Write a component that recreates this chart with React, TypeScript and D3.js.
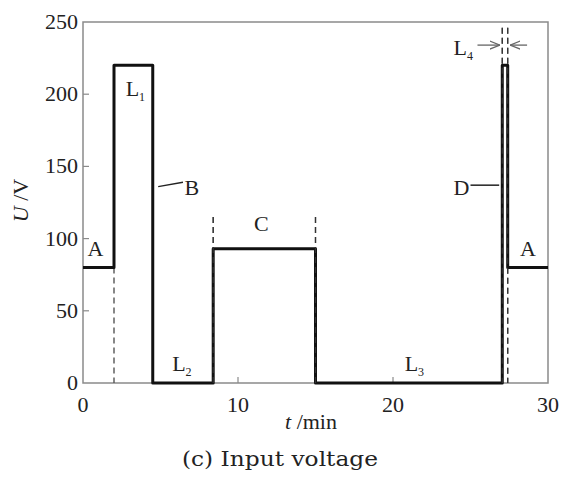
import * as d3 from "d3";
import { useEffect, useRef } from "react";

// step segments: start time (min) and voltage held until the next start
const segStart = [0, 2, 4.5, 8.4, 15, 27.05, 27.4];
const segVolt = [80, 220, 0, 93, 0, 220, 80];
const tEnd = 30;

// dashed guide lines: time and top voltage
const guideT = [2, 8.4, 15, 27.05, 27.4];
const guideTop = [80, 115, 115, 246, 246];

const xTicks = [0, 10, 20, 30];
const yTicks = [0, 50, 100, 150, 200, 250];

// text labels placed in data coords
const labels = [
  { t: "A", x: 0.8, y: 88 },
  { t: "A", x: 28.7, y: 88 },
  { t: "C", x: 11.5, y: 105 },
];
const subLabels = [
  { t: "L", s: "1", x: 2.75, y: 199 },
  { t: "L", s: "2", x: 5.75, y: 8 },
  { t: "L", s: "3", x: 20.75, y: 8 },
  { t: "L", s: "4", x: 23.9, y: 227 },
];

const App = () => {
  const ref = useRef<SVGSVGElement>(null);

  const W = 561, H = 480;
  const margin = { top: 22, left: 83, right: 13, bottom: 97 };

  useEffect(() => {
    const svg = d3.select(ref.current);
    svg.selectAll("*").remove();

    const x = d3.scaleLinear().domain([0, 30]).range([margin.left, W - margin.right]);
    const y = d3.scaleLinear().domain([0, 250]).range([H - margin.bottom, margin.top]);
    const font = "'Liberation Serif', 'Times New Roman', serif";

    // frame
    svg.append("rect")
      .attr("x", x(0)).attr("y", y(250))
      .attr("width", x(30) - x(0)).attr("height", y(0) - y(250))
      .attr("fill", "none").attr("stroke", "#8a8a8a").attr("stroke-width", 1.5);

    // ticks (inward)
    svg.selectAll(".yt").data(yTicks.slice(1, -1)).enter().append("line")
      .attr("x1", x(0)).attr("x2", x(0) + 6)
      .attr("y1", d => y(d)).attr("y2", d => y(d))
      .attr("stroke", "#8a8a8a").attr("stroke-width", 1.2);
    svg.selectAll(".xt").data(xTicks.slice(1, -1)).enter().append("line")
      .attr("x1", d => x(d)).attr("x2", d => x(d))
      .attr("y1", y(0)).attr("y2", y(0) - 6)
      .attr("stroke", "#8a8a8a").attr("stroke-width", 1.2);

    svg.selectAll(".yl").data(yTicks).enter().append("text")
      .attr("x", x(0) - 5).attr("y", d => y(d) + 7)
      .attr("text-anchor", "end")
      .style("font-family", font).style("font-size", "22px").attr("fill", "#222")
      .text(d => d);
    svg.selectAll(".xl").data(xTicks).enter().append("text")
      .attr("x", d => x(d)).attr("y", y(0) + 29)
      .attr("text-anchor", "middle")
      .style("font-family", font).style("font-size", "22px").attr("fill", "#222")
      .text(d => d);

    // axis titles
    const xt = svg.append("text")
      .attr("x", 311).attr("y", y(0) + 46)
      .attr("text-anchor", "middle")
      .style("font-family", font).style("font-size", "22px").attr("fill", "#222");
    xt.append("tspan").style("font-style", "italic").text("t");
    xt.append("tspan").text(" /min");

    const yt = svg.append("text")
      .attr("transform", `translate(28, ${y(125) - 2}) rotate(-90)`)
      .attr("text-anchor", "middle")
      .style("font-family", font).style("font-size", "22px").attr("fill", "#222");
    yt.append("tspan").style("font-style", "italic").text("U");
    yt.append("tspan").text(" /V");

    // dashed guides
    svg.selectAll(".guide").data(guideT).enter().append("line")
      .attr("x1", d => x(d)).attr("x2", d => x(d))
      .attr("y1", (d, i) => y(guideTop[i])).attr("y2", y(0))
      .attr("stroke", "#555").attr("stroke-width", 1.4)
      .attr("stroke-dasharray", "6,4");

    // step line
    const pts: [number, number][] = [];
    segStart.forEach((s, i) => {
      const e = i < segStart.length - 1 ? segStart[i + 1] : tEnd;
      pts.push([s, segVolt[i]], [e, segVolt[i]]);
    });
    const line = d3.line<[number, number]>().x(d => x(d[0])).y(d => y(d[1]));
    svg.append("path").datum(pts)
      .attr("d", line)
      .attr("fill", "none").attr("stroke", "#111").attr("stroke-width", 3)
      .attr("stroke-linejoin", "round");

    // re-draw dashes over the solid edges so they look dashed
    svg.selectAll(".guide2").data(guideT.slice(1)).enter().append("line")
      .attr("x1", d => x(d)).attr("x2", d => x(d))
      .attr("y1", (d, i) => y(guideTop[i + 1])).attr("y2", y(0))
      .attr("stroke", "#333").attr("stroke-width", 1.2)
      .attr("stroke-dasharray", "6,4");

    // plain labels
    svg.selectAll(".lab").data(labels).enter().append("text")
      .attr("x", d => x(d.x)).attr("y", d => y(d.y))
      .attr("text-anchor", "middle")
      .style("font-family", font).style("font-size", "22px").attr("fill", "#222")
      .text(d => d.t);

    // L labels with subscripts
    subLabels.forEach(d => {
      const t = svg.append("text")
        .attr("x", x(d.x)).attr("y", y(d.y))
        .style("font-family", font).style("font-size", "22px").attr("fill", "#222");
      t.append("tspan").text(d.t);
      t.append("tspan").attr("dy", 5).style("font-size", "12px").text(d.s);
    });

    // B and D pointers
    svg.append("line")
      .attr("x1", x(4.85)).attr("y1", y(136)).attr("x2", x(6.45)).attr("y2", y(139))
      .attr("stroke", "#222").attr("stroke-width", 1.5);
    svg.append("text").attr("x", x(6.55)).attr("y", y(130))
      .style("font-family", font).style("font-size", "22px").attr("fill", "#222").text("B");
    svg.append("line")
      .attr("x1", x(25.0)).attr("y1", y(137)).attr("x2", x(26.85)).attr("y2", y(137))
      .attr("stroke", "#222").attr("stroke-width", 1.5);
    svg.append("text").attr("x", x(23.9)).attr("y", y(130))
      .style("font-family", font).style("font-size", "22px").attr("fill", "#222").text("D");

    // L4 arrows
    const defs = svg.append("defs");
    defs.append("marker").attr("id", "ah").attr("viewBox", "0 0 10 10")
      .attr("refX", 10).attr("refY", 5).attr("markerWidth", 8).attr("markerHeight", 8)
      .attr("orient", "auto-start-reverse")
      .append("path").attr("d", "M0,1 L10,5 L0,9").attr("fill", "none")
      .attr("stroke", "#666").attr("stroke-width", 1.3);
    svg.append("line")
      .attr("x1", x(25.45)).attr("x2", x(26.9)).attr("y1", y(234)).attr("y2", y(234))
      .attr("stroke", "#666").attr("stroke-width", 1.3).attr("marker-end", "url(#ah)");
    svg.append("line")
      .attr("x1", x(28.65)).attr("x2", x(27.55)).attr("y1", y(234)).attr("y2", y(234))
      .attr("stroke", "#666").attr("stroke-width", 1.3).attr("marker-end", "url(#ah)");

    // caption
    svg.append("text")
      .attr("x", 280).attr("y", 466)
      .attr("text-anchor", "middle")
      .attr("textLength", 196).attr("lengthAdjust", "spacingAndGlyphs")
      .style("font-family", "'DejaVu Serif', serif").style("font-size", "20px").attr("fill", "#222")
      .text("(c) Input voltage");
  }, []);

  return (
    <svg ref={ref} width={W} height={H} style={{ position: "absolute", left: 0, top: 0, background: "#fff" }}></svg>
  );
};

export default App;
